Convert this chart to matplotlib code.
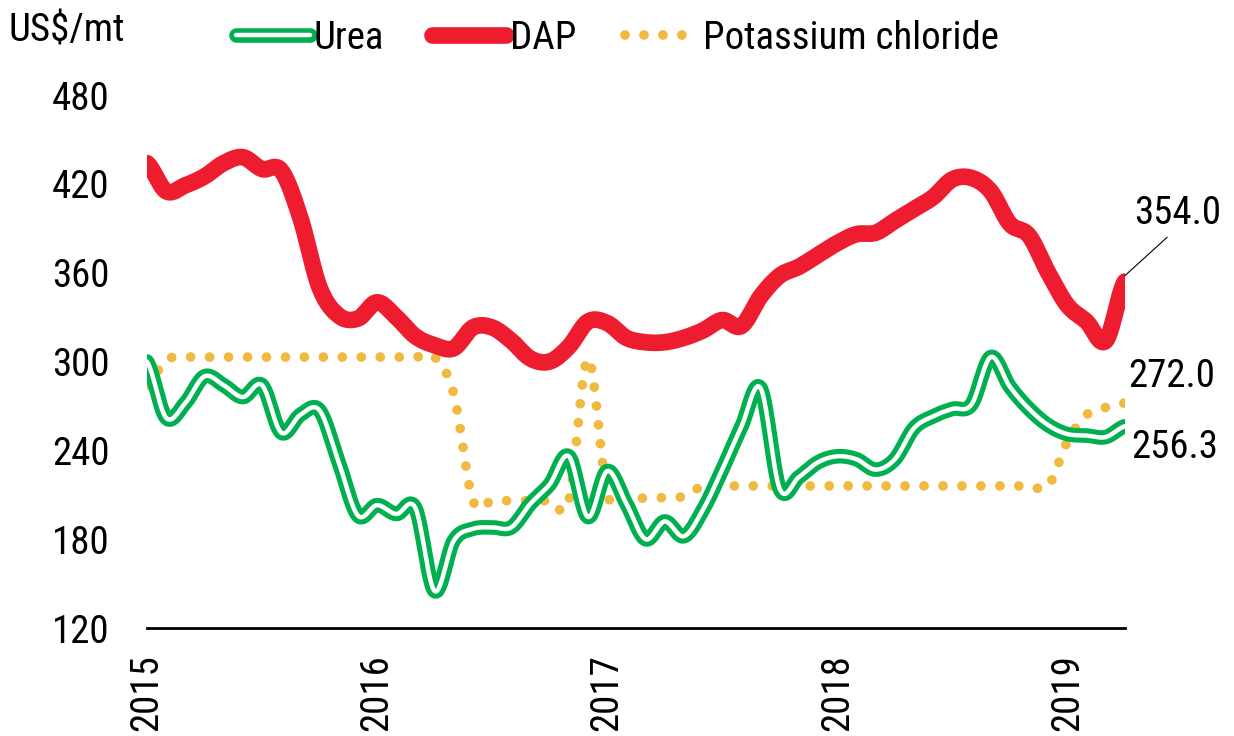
import numpy as np
import matplotlib.pyplot as plt
from matplotlib import patheffects as pe

plt.rcParams['font.family'] = ['Arial Narrow', 'Liberation Sans Narrow', 'Nimbus Sans Narrow',
                               'Roboto Condensed', 'Archivo Narrow', 'Liberation Sans', 'DejaVu Sans']

# monthly prices, Jan 2015 .. Apr 2019 (US$/mt)
years = ['2015', '2016', '2017', '2018', '2019']
urea = [300, 262, 272, 290, 284, 276, 284, 252, 264, 267,
        232, 196, 203, 197, 201, 145, 179, 187, 188, 188,
        204, 217, 236, 195, 226, 204, 180, 192, 182, 200,
        227, 256, 282, 214, 222, 232, 236, 234, 227, 234,
        255, 263, 268, 271, 303, 283, 268, 257, 251, 250,
        249, 256.3]
dap = [434, 415, 419, 425, 434, 438, 430, 429, 397, 350,
       331, 329, 340, 330, 317, 311, 309, 323, 323, 314,
       302, 300, 310, 327, 326, 316, 313, 313, 316, 321,
       328, 324, 344, 358, 364, 372, 380, 386, 387, 395,
       403, 411, 423, 424, 415, 393, 385, 360, 338, 327,
       314, 354.0]
potash = [284, 301, 303, 303, 303, 303, 303, 303, 303, 303,
          303, 303, 303, 303, 303, 303, 278, 206, 206, 206,
          206, 206, 206, 302, 211, 206, 208, 208, 209, 216,
          216, 216, 216, 216, 216, 216, 216, 216, 216, 216,
          216, 216, 216, 216, 216, 216, 216, 216, 246, 264,
          269, 272.0]

GREEN = '#00B050'
RED = '#ED1C2E'
GOLD = '#F0B940'
FS = 28


def smooth(vals, n=24):
    # Excel-style smoothed line (Catmull-Rom through the monthly points)
    v = np.asarray(vals, dtype=float)
    p = np.concatenate([[v[0]], v, [v[-1]]])
    t = np.linspace(0, 1, n, endpoint=False)
    h00 = 2 * t**3 - 3 * t**2 + 1
    h10 = t**3 - 2 * t**2 + t
    h01 = -2 * t**3 + 3 * t**2
    h11 = t**3 - t**2
    xs, ys = [], []
    for i in range(len(v) - 1):
        m1 = (p[i + 2] - p[i]) / 2
        m2 = (p[i + 3] - p[i + 1]) / 2
        ys.append(h00 * p[i + 1] + h10 * m1 + h01 * p[i + 2] + h11 * m2)
        xs.append(i + t)
    xs.append([len(v) - 1])
    ys.append([v[-1]])
    return np.concatenate(xs), np.concatenate(ys)


fig = plt.figure(figsize=(12.34, 7.36), dpi=100)
ax = fig.add_axes([0.1191, 0.1467, 0.7925, 0.7242])

x, y = smooth(urea)
ax.plot(x, y, color='white', lw=3.2, solid_capstyle='round', label='Urea',
        path_effects=[pe.Stroke(linewidth=10.5, foreground=GREEN), pe.Normal()], zorder=3)
x, y = smooth(dap)
ax.plot(x, y, color=RED, lw=12, solid_capstyle='round', label='DAP', zorder=2)
x, y = smooth(potash)
ax.plot(x, y, color=GOLD, lw=7, linestyle=(0, (0.001, 1.95)), dash_capstyle='round',
        label='Potassium chloride', zorder=1)

ax.set_xlim(0, len(dap) - 1)
ax.set_ylim(120, 480)
ax.set_yticks(range(120, 481, 60))
ax.set_xticks(range(0, len(dap), 12))
ax.set_xticklabels(years, rotation=90)
ax.tick_params(axis='y', length=0, pad=27, labelsize=FS)
ax.tick_params(axis='x', length=0, pad=19, labelsize=FS)
for s in ['left', 'right', 'top']:
    ax.spines[s].set_visible(False)
ax.spines['bottom'].set_linewidth(2)

# end-of-series labels
last = len(dap) - 1
ax.annotate(f'{dap[-1]:.1f}', xy=(last, 358), xytext=(38, 45), textcoords='offset points',
            ha='center', va='center', fontsize=FS, annotation_clip=False,
            arrowprops=dict(arrowstyle='-', color='black', lw=0.8, relpos=(0.45, 0),
                            shrinkA=3, shrinkB=0))
ax.annotate(f'{potash[-1]:.1f}', xy=(last, potash[-1]), xytext=(34, 19), textcoords='offset points',
            ha='center', va='center', fontsize=FS, annotation_clip=False)
ax.annotate(f'{urea[-1]:.1f}', xy=(last, urea[-1]), xytext=(36, -15), textcoords='offset points',
            ha='center', va='center', fontsize=FS, annotation_clip=False)

fig.text(0.007, 0.958, 'US$/mt', fontsize=FS, va='center', ha='left')
fig.legend(loc='center left', bbox_to_anchor=(0.191, 0.948), ncol=3, frameon=False,
           fontsize=FS, handlelength=1.9, handletextpad=0.1, columnspacing=1.25,
           borderpad=0, borderaxespad=0)

fig.savefig('out.png', dpi=100)
